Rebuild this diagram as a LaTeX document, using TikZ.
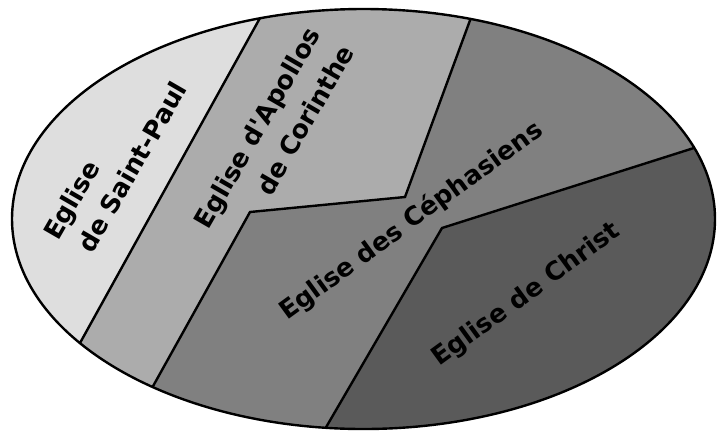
\documentclass[tikz,border=0pt]{standalone}
\usepackage{fontspec}
\setmainfont{DejaVu Sans}
\begin{document}
\begin{tikzpicture}[x=1pt,y=-1pt,
  border/.style={line width=2.4pt,line join=miter},
  lbl/.style={font=\bfseries\fontsize{25.5}{30}\selectfont,inner sep=0pt}]
\useasboundingbox (0,0) rectangle (725,432);
\begin{scope}
\clip (363.5,219) ellipse [x radius=351.5pt, y radius=210pt];
\fill[fill={rgb,255:red,90;green,90;blue,90}] (-10,-20) rectangle (740,450);
\fill[fill={rgb,255:red,128;green,128;blue,128}] (-10,-20) -- (760,-20) -- (760,127) -- (442,228) -- (300,472) -- (-10,472) -- cycle;
\fill[fill={rgb,255:red,172;green,172;blue,172}] (-10,-20) -- (483,-15) -- (405,197) -- (250,212) -- (122.6,440.8) -- (-10,472) -- cycle;
\fill[fill={rgb,255:red,222;green,222;blue,222}] (-10,-20) -- (278,-14.5) -- (62,375.5) -- (-10,472) -- cycle;
\draw[border] (278,-14.5) -- (62,375.5);
\draw[border] (483,-15) -- (405,197) -- (250,212) -- (122.6,440.8);
\draw[border] (760,127) -- (442,228) -- (300,472);
\end{scope}
\draw[border] (363.5,219) ellipse [x radius=351.5pt, y radius=210pt];
\node[lbl,rotate=60] (sp1) at (73.5,201) {Eglise};
\node[lbl,rotate=60] (sp2) at (132,167) {de Saint-Paul};
\node[lbl,rotate=60] (ap1) at (259,129) {Eglise d\textquotesingle Apollos};
\node[lbl,rotate=60] (ap2) at (305,120) {de Corinthe};
\node[lbl,rotate=36] (ce) at (411.5,221) {Eglise des Céphasiens};
\node[lbl,rotate=36] (ch) at (526.5,295) {Eglise de Christ};
\end{tikzpicture}
\end{document}
